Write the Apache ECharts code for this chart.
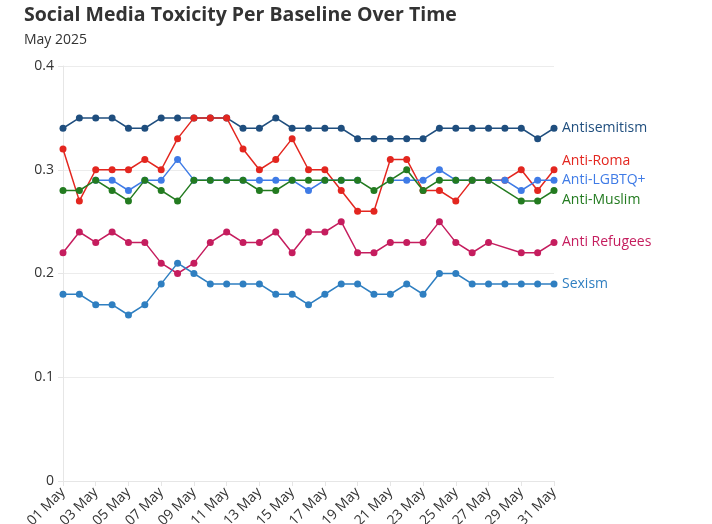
<!DOCTYPE html>
<html>
<head>
<meta charset="utf-8">
<script src="https://cdn.jsdelivr.net/npm/echarts@6/dist/echarts.min.js"></script>
<style>
html,body{margin:0;padding:0;background:#fff;}
#chart{width:712px;height:524px;}
</style>
</head>
<body>
<div id="chart"></div>
<script>
const days = ['01 May','02 May','03 May','04 May','05 May','06 May','07 May','08 May','09 May','10 May',
  '11 May','12 May','13 May','14 May','15 May','16 May','17 May','18 May','19 May','20 May',
  '21 May','22 May','23 May','24 May','25 May','26 May','27 May','28 May','29 May','30 May','31 May'];
const antisemitism = [0.34,0.35,0.35,0.35,0.34,0.34,0.35,0.35,0.35,0.35,0.35,0.34,0.34,0.35,0.34,0.34,0.34,0.34,0.33,0.33,0.33,0.33,0.33,0.34,0.34,0.34,0.34,0.34,0.34,0.33,0.34];
const antiRoma = [0.32,0.27,0.30,0.30,0.30,0.31,0.30,0.33,0.35,0.35,0.35,0.32,0.30,0.31,0.33,0.30,0.30,0.28,0.26,0.26,0.31,0.31,0.28,0.28,0.27,0.29,0.29,0.29,0.30,0.28,0.30];
const antiLGBTQ = [null,null,0.29,0.29,0.28,0.29,0.29,0.31,0.29,0.29,0.29,0.29,0.29,0.29,0.29,0.28,0.29,0.29,0.29,null,0.29,0.29,0.29,0.30,0.29,0.29,0.29,0.29,0.28,0.29,0.29];
const antiMuslim = [0.28,0.28,0.29,0.28,0.27,0.29,0.28,0.27,0.29,0.29,0.29,0.29,0.28,0.28,0.29,0.29,0.29,0.29,0.29,0.28,0.29,0.30,0.28,0.29,0.29,0.29,0.29,null,0.27,0.27,0.28];
const antiRefugees = [0.22,0.24,0.23,0.24,0.23,0.23,0.21,0.20,0.21,0.23,0.24,0.23,0.23,0.24,0.22,0.24,0.24,0.25,0.22,0.22,0.23,0.23,0.23,0.25,0.23,0.22,0.23,null,0.22,0.22,0.23];
const sexism = [0.18,0.18,0.17,0.17,0.16,0.17,0.19,0.21,0.20,0.19,0.19,0.19,0.19,0.18,0.18,0.17,0.18,0.19,0.19,0.18,0.18,0.19,0.18,0.20,0.20,0.19,0.19,0.19,0.19,0.19,0.19];
const yTicks = [0, 0.1, 0.2, 0.3, 0.4];

const FONT = '"Open Sans", "Noto Sans", sans-serif';
function mk(name, data, color, connect, offset) {
  return {
    name: name, type: 'line', data: data, connectNulls: connect,
    symbol: 'circle', symbolSize: 7, showSymbol: true,
    lineStyle: { width: 1.5, color: color },
    itemStyle: { color: color },
    emphasis: { disabled: true },
    endLabel: {
      show: true, formatter: '{a}', color: color, fontSize: 14, fontFamily: FONT,
      distance: 8, offset: offset || [0, 0]
    }
  };
}
const chart = echarts.init(document.getElementById('chart'), null, { renderer: 'canvas' });
chart.setOption({
  animation: false,
  backgroundColor: '#fff',
  title: {
    text: 'Social Media Toxicity Per Baseline Over Time',
    subtext: 'May 2025',
    left: 19, top: 0,
    itemGap: 8,
    textStyle: { fontFamily: FONT, fontWeight: 'bold', fontSize: 19.5, color: '#333' },
    subtextStyle: { fontFamily: FONT, fontSize: 14, color: '#333' }
  },
  grid: { left: 63, right: 158, top: 66, bottom: 43, containLabel: false, outerBoundsMode: 'none' },
  xAxis: {
    type: 'category', data: days, boundaryGap: false,
    axisLine: { show: true, lineStyle: { color: '#e6e6e6' } },
    axisTick: { show: true, interval: 1, length: 5, lineStyle: { color: '#e6e6e6' } },
    axisLabel: { interval: 1, rotate: 45, fontSize: 14, color: '#333', fontFamily: FONT, margin: 9 },
    splitLine: { show: false }
  },
  yAxis: {
    type: 'value', min: yTicks[0], max: yTicks[yTicks.length - 1], interval: 0.1,
    axisLine: { show: true, lineStyle: { color: '#e6e6e6' } },
    axisTick: { show: true, length: 5, lineStyle: { color: '#e6e6e6' } },
    axisLabel: { fontSize: 14, color: '#333', fontFamily: FONT, margin: 9 },
    splitLine: { show: true, lineStyle: { color: '#ececec' } }
  },
  series: [
    mk('Antisemitism', antisemitism, '#1f4e7e', false),
    mk('Anti-Roma', antiRoma, '#e3261f', false, [0, -9]),
    mk('Anti-LGBTQ+', antiLGBTQ, '#3f7be6', false),
    mk('Anti-Muslim', antiMuslim, '#237b20', true, [0, 10]),
    mk('Anti Refugees', antiRefugees, '#c51d5e', true),
    mk('Sexism', sexism, '#2f7fc1', false)
  ]
});
</script>
</body>
</html>
